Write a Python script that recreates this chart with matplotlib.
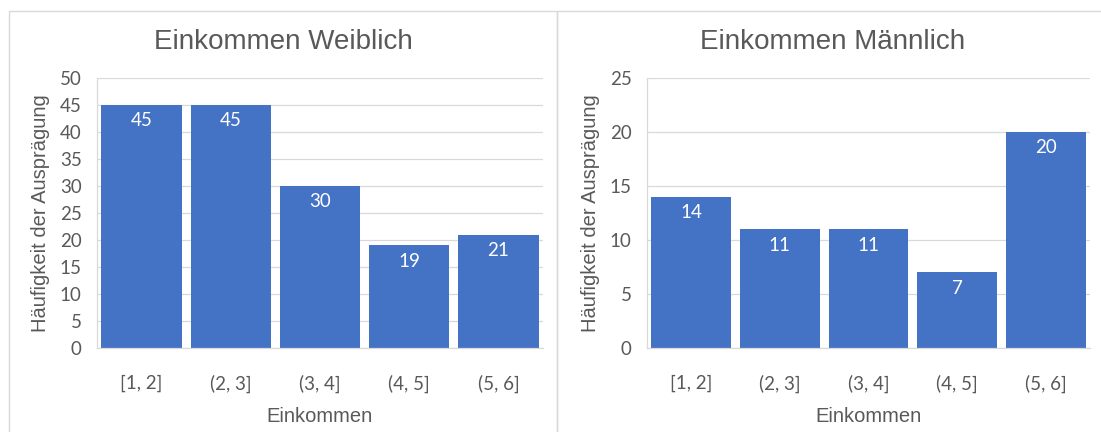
import matplotlib.pyplot as plt
from matplotlib.patches import Rectangle

# Einkommensklassen und Häufigkeiten
klassen = ["[1, 2]", "(2, 3]", "(3, 4]", "(4, 5]", "(5, 6]"]
weiblich = [45, 45, 30, 19, 21]
maennlich = [14, 11, 11, 7, 20]

bar_color = "#4472C4"
grid_color = "#D9D9D9"
text_color = "#595959"
tick_font = "Lato"
label_font = "Liberation Sans"

fig = plt.figure(figsize=(11.01, 4.32), dpi=100)
fig.patch.set_facecolor("white")

# Rahmen der beiden Diagramme
for x0, x1 in [(9, 557), (557, 1110)]:
    fig.patches.append(Rectangle((x0 / 1101, -0.1), (x1 - x0) / 1101, 1.1 - 11 / 432,
                                 transform=fig.transFigure, fill=False,
                                 edgecolor=grid_color, linewidth=1.0))


def draw(ax, werte, titel, ymax, step, title_x):
    x = range(len(klassen))
    ax.bar(x, werte, width=0.9, color=bar_color, zorder=2)
    ax.set_xlim(-0.5, len(klassen) - 0.5)
    ax.set_ylim(0, ymax)
    ax.set_yticks(range(0, ymax + 1, step))
    ax.set_xticks(list(x))
    ax.set_xticklabels(klassen)
    ax.yaxis.grid(True, color=grid_color, linewidth=0.9, zorder=0)
    ax.set_axisbelow(True)
    for s in ["top", "right"]:
        ax.spines[s].set_visible(False)
    for s in ["left", "bottom"]:
        ax.spines[s].set_color(grid_color)
        ax.spines[s].set_linewidth(0.9)
    ax.tick_params(length=0, colors=text_color, labelsize=13.5)
    ax.tick_params(axis="x", pad=19)
    ax.tick_params(axis="y", pad=11)
    for lab in ax.get_xticklabels() + ax.get_yticklabels():
        lab.set_fontfamily(tick_font)
    # Werte in den Balken
    for i, v in enumerate(werte):
        ax.annotate(str(v), (i, v), xytext=(0, -11.5), textcoords="offset points",
                    ha="center", va="center", color="white", fontsize=13.5,
                    fontfamily=tick_font)
    ax.set_ylabel("Häufigkeit der Ausprägung", fontsize=14.5, color=text_color,
                  fontfamily=label_font, labelpad=7)
    ax.set_xlabel("Einkommen", fontsize=14.5, color=text_color,
                  fontfamily=label_font, labelpad=10)
    fig.text(title_x, 1 - 42 / 432, titel, ha="center", va="center",
             fontsize=20, color=text_color, fontfamily=label_font)


ax1 = fig.add_axes([97 / 1101, 1 - 348 / 432, 446 / 1101, 270 / 432])
ax2 = fig.add_axes([647 / 1101, 1 - 348 / 432, 443 / 1101, 270 / 432])

draw(ax1, weiblich, "Einkommen Weiblich", 50, 5, 283 / 1101)
draw(ax2, maennlich, "Einkommen Männlich", 25, 5, 833 / 1101)

fig.savefig("out.png", dpi=100, facecolor="white")
